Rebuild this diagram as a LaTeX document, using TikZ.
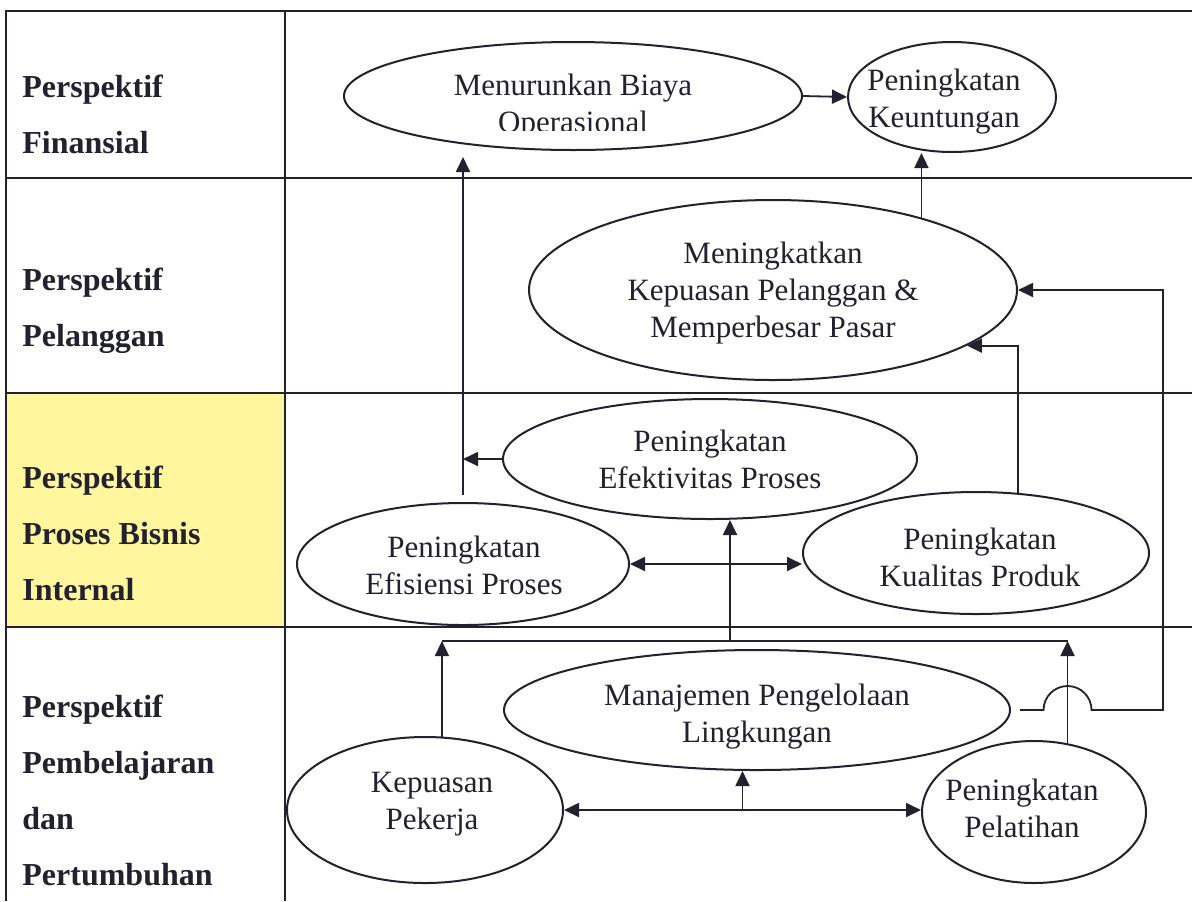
\documentclass[tikz,border=0pt]{standalone}
\usepackage{fontspec}
\setmainfont{Liberation Serif}
\usetikzlibrary{shapes.geometric,arrows.meta,calc}
\definecolor{ink}{RGB}{34,34,46}
\definecolor{cellyellow}{RGB}{255,246,158}
\begin{document}
\begin{tikzpicture}[x=0.5pt,y=-0.5pt,
  grid/.style={draw=ink, line width=0.6pt},
  ell/.style={ellipse, draw=ink, line width=1pt, inner sep=0pt},
  lbl/.style={text=ink, align=center, font=\fontsize{15.5}{18.5}\selectfont, inner sep=0pt, anchor=north},
  head/.style={text=ink, align=left, font=\bfseries\fontsize{16}{28}\selectfont, inner sep=0pt, anchor=north west},
  link/.style={draw=ink, line width=0.9pt},
  arr/.style={link, -{Triangle[length=7.5pt,width=7pt]}},
  arrr/.style={link, {Triangle[length=7.5pt,width=7pt]}-{Triangle[length=7.5pt,width=7pt]}},
]
\useasboundingbox (0,0) rectangle (1192,901);
\fill[white] (0,0) rectangle (1192,901);

% table
\fill[cellyellow] (6,393) rectangle (285,627);
\draw[grid] (6,901) -- (6,11) -- (1192,11);
\draw[grid] (285,11) -- (285,901);
\foreach \y in {178,393,627} \draw[grid] (6,\y) -- (1192,\y);

% perspective headings
\node[head] (h1) at (22,75) {Perspektif\\Finansial};
\node[head] (h2) at (22,268) {Perspektif\\Pelanggan};
\node[head] (h3) at (22,466) {Perspektif\\Proses Bisnis\\Internal};
\node[head] (h4) at (22,695) {Perspektif\\Pembelajaran\\dan\\Pertumbuhan};

% objectives (minimum width/height in pt = half axes in px)
\node[ell, minimum width=229pt, minimum height=54pt] (men) at (573,96) {};
\node[ell, minimum width=104pt, minimum height=55pt] (keu) at (952,97) {};
\node[ell, minimum width=244pt, minimum height=90pt] (mtk) at (773,290) {};
\node[ell, minimum width=207pt, minimum height=60pt] (eft) at (710,459) {};
\node[ell, minimum width=166pt, minimum height=61pt] (efi) at (463,564) {};
\node[ell, minimum width=173pt, minimum height=61pt] (kua) at (976,553) {};
\node[ell, minimum width=253pt, minimum height=60pt] (mgl) at (757,710) {};
\node[ell, minimum width=138pt, minimum height=73pt] (kpk) at (425,810) {};
\node[ell, minimum width=112pt, minimum height=71pt] (pel) at (1034,812) {};

% objective texts
\begin{scope}
  \clip (340,40) rectangle (805,130);
  \node[lbl] (men-t) at (573,74) {Menurunkan Biaya\\Operasional};
\end{scope}
\node[lbl] (keu-t) at (944,69) {Peningkatan\\Keuntungan};
\node[lbl] (mtk-t) at (773,242) {Meningkatkan\\Kepuasan Pelanggan \&\\Memperbesar Pasar};
\node[lbl] (eft-t) at (710,430) {Peningkatan\\Efektivitas Proses};
\node[lbl] (efi-t) at (464,536) {Peningkatan\\Efisiensi Proses};
\node[lbl] (kua-t) at (980,528) {Peningkatan\\Kualitas Produk};
\node[lbl] (mgl-t) at (757,684) {Manajemen Pengelolaan\\Lingkungan};
\node[lbl] (kpk-t) at (432,772) {Kepuasan\\Pekerja};
\node[lbl] (pel-t) at (1022,779) {Peningkatan\\Pelatihan};

% junction points
\coordinate (bus) at (730,641);
\coordinate (rail) at (1163,0);
\coordinate (kpmid) at ($(kpk.east)!0.5!(kpk.east -| pel.west)$);
\coordinate (hopc) at (pel.64 |- mgl.east);

% financial
\draw[arr] (men.east) -- (keu.west);
\draw[arr] (mtk.26) -- (mtk.26 |- keu.south);
\draw[arr, shorten >=3pt] ([yshift=3.5pt]efi.north) -- (efi.north |- men.south);

% internal process
\draw[arr] (eft.west) -- (eft.west -| efi.north);
\draw[arrr] (efi.east) -- (efi.east -| kua.west);
\draw[arr] (kua.55) |- (mtk.-16);

% learning and growth
\draw[link] (kpk.77 |- bus) -- (pel.64 |- bus);
\draw[arr] (kpk.77) -- (kpk.77 |- bus);
\draw[arr] (pel.64) -- (pel.64 |- bus);
\draw[arr] (bus) -- (bus |- eft.south);
\draw[arrr] (kpk.east) -- (kpk.east -| pel.west);
\draw[arr] (kpmid) -- (kpmid |- mgl.south);
\draw[arr] ([xshift=4.5pt]mgl.east) -- ([xshift=-12pt]hopc)
  arc[start angle=180, end angle=0, radius=12pt]
  -- (rail |- mgl.east) |- (mtk.east);
\end{tikzpicture}
\end{document}
